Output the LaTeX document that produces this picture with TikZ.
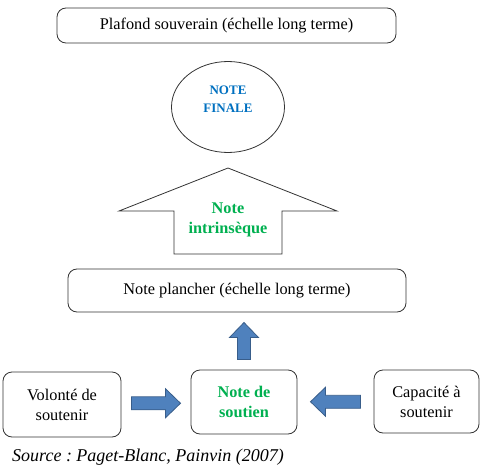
\documentclass[tikz,border=0pt]{standalone}
\usepackage{fontspec}
\setmainfont{Liberation Serif}
\frenchspacing
\usetikzlibrary{calc,shapes.geometric}
\definecolor{arrowblue}{RGB}{79,129,189}
\definecolor{arrowedge}{RGB}{56,93,138}
\definecolor{finaleblue}{RGB}{0,112,192}
\definecolor{notegreen}{RGB}{0,176,80}
\tikzset{
	box/.style={draw=black!80, line width=0.8pt, rounded corners=9pt, align=center, inner sep=0pt, font=\fontsize{16.3}{20}\selectfont},
	greentext/.style={text=notegreen, align=center, font=\fontsize{16.3}{20}\selectfont\bfseries},
	bluetext/.style={text=finaleblue, align=center, font=\fontsize{13}{18}\selectfont\bfseries},
	pics/blockarrow/.style={code={
		\draw[fill=arrowblue, draw=arrowedge, line width=0.8pt] ({-#1/2},-6.5) -- ({#1/2-15},-6.5) -- ({#1/2-15},-14.5) -- ({#1/2},0) -- ({#1/2-15},14.5) -- ({#1/2-15},6.5) -- ({-#1/2},6.5) -- cycle;
	}}
}

\begin{document}
\begin{tikzpicture}[x=1pt, y=-1pt]
			%%%%% START %%%%%
			\useasboundingbox (0,0) rectangle (488,471);
			
			\node[box, minimum width=339pt, minimum height=35pt] (plafond) at (226.5,25.5) {Plafond souverain (échelle long terme)};
			
			\node[ellipse, draw=black!80, line width=0.8pt, minimum width=113pt, minimum height=91pt] (finale) at (228,107) {};
			\node[bluetext] (finaletxt) at ($(finale.center)+(0,-8)$) {NOTE\\FINALE};
			
			\draw[draw=black!80, line width=0.8pt] (174,254) -- (174,211) -- (119,211) -- (228,168) -- (337,211) -- (282,211) -- (282,254) -- cycle;
			\node[greentext] (intr) at (228,220) {Note\\intrinsèque};
			
			\node[box, minimum width=338pt, minimum height=43pt] (plancher) at (237,290.5) {Note plancher (échelle long terme)};
			
			\node[box, minimum width=118pt, minimum height=65pt] (volonte) at (62,404.5) {Volonté de\\soutenir};
			\node[box, greentext, minimum width=106pt, minimum height=64pt] (soutien) at (244,402) {Note de\\soutien};
			\node[box, minimum width=105pt, minimum height=63pt] (capacite) at (426.5,401.5) {Capacité à\\soutenir};
			
			\pic at ($(volonte.east)!0.5!(soutien.west)$) {blockarrow=49};
			\pic[rotate=180] at ($(soutien.east)!0.5!(capacite.west)$) {blockarrow=50};
			\pic[rotate=90] at ($(soutien.north)!0.5!(soutien.north |- plancher.south)$) {blockarrow=37};
			
			\node[anchor=west, inner sep=0pt, font=\fontsize{18}{20}\selectfont\itshape] (source) at (12,457) {Source : Paget-Blanc, Painvin (2007)};
			%%%%% END %%%%%
\end{tikzpicture}
\end{document}
